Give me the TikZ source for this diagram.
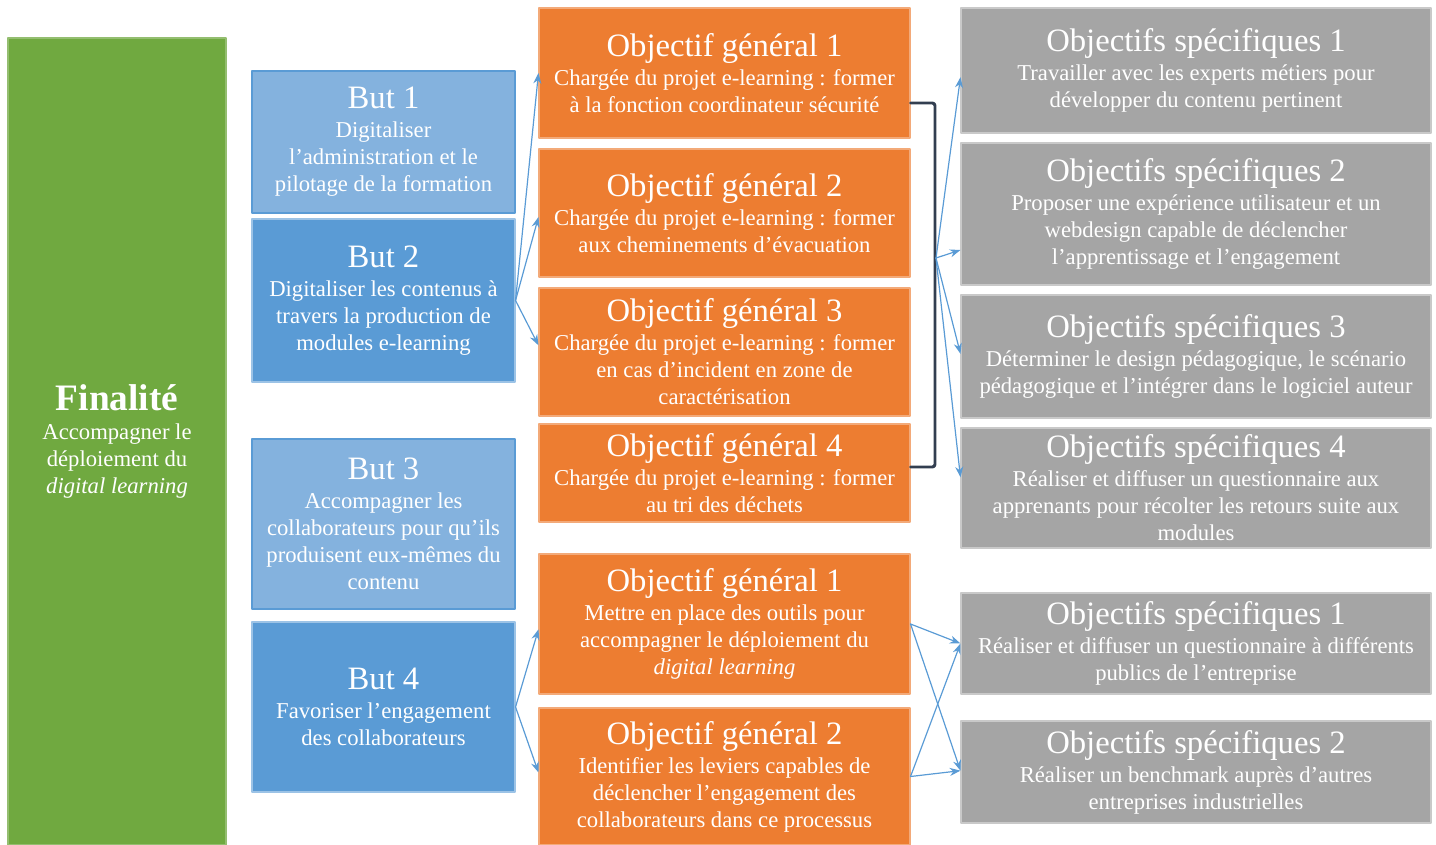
\documentclass[tikz,border=0pt]{standalone}
\usepackage{fontspec}
\setmainfont{Liberation Serif}
\usepackage{xcolor}
\usepackage{tikz}
\usetikzlibrary{arrows.meta,calc}

\definecolor{vertFin}{HTML}{70A940}
\definecolor{bleuBut}{HTML}{5A9BD5}
\definecolor{bleuClair}{HTML}{84B2DE}
\definecolor{orangeGen}{HTML}{ED7D31}
\definecolor{grisSpe}{HTML}{A5A5A5}
\definecolor{navyCrochet}{HTML}{323E50}

\newcommand{\titre}[1]{{\fontsize{24.5}{28}\selectfont #1}}

\begin{document}
\begin{tikzpicture}[
					x=0.75pt,y=-0.75pt,
					>=Stealth,
					line cap=round,line join=round,
					font=\fontsize{17}{20.25}\selectfont,
					boite/.style={rectangle, text=white, align=center, inner sep=0pt, line width=0.8pt},
					fina/.style={boite, fill=vertFin, draw=vertFin!75!white},
					butclair/.style={boite, fill=bleuClair, draw=bleuBut},
					butfonce/.style={boite, fill=bleuBut, draw=bleuBut!60!white},
					objgen/.style={boite, fill=orangeGen, draw=orangeGen!65!white},
					objspe/.style={boite, fill=grisSpe, draw=grisSpe!60!white},
					fleche/.style={-{Stealth[length=8pt,width=6pt]}, draw=bleuBut, line width=0.9pt},
					crochet/.style={draw=navyCrochet, line width=2.2pt, rounded corners=2pt}
					]
					%----- parameters
					\def\px{0.75pt}
					\def\cFin{117}
					\def\cBut{383.5}
					\def\cGen{724.5}
					\def\cSpe{1196}
					\def\wBut{263}
					\def\wGen{371}
					\def\wSpe{470}
					
					\useasboundingbox (0,0) rectangle (1436,845);
					
					%----- finalite
					\node[fina, minimum width=218*\px, minimum height=807*\px] (fin) at (\cFin,441.5)
					{{\fontsize{28}{30}\selectfont\bfseries Finalité}\\[1.5pt] Accompagner le\\ déploiement du\\ \textit{digital learning}};
					
					%----- buts
					\node[butclair, minimum width=\wBut*\px, minimum height=142*\px] (but1) at (\cBut,142)
					{\titre{But 1}\\[1.5pt] Digitaliser\\ l’administration et le\\ pilotage de la formation};
					\node[butfonce, minimum width=\wBut*\px, minimum height=163*\px] (but2) at (\cBut,300.5)
					{\titre{But 2}\\[1.5pt] Digitaliser les contenus à\\ travers la production de\\ modules e-learning};
					\node[butclair, minimum width=\wBut*\px, minimum height=170*\px] (but3) at (\cBut,524)
					{\titre{But 3}\\[1.5pt] Accompagner les\\ collaborateurs pour qu’ils\\ produisent eux-mêmes du\\ contenu};
					\node[butfonce, minimum width=\wBut*\px, minimum height=170*\px] (but4) at (\cBut,707)
					{\titre{But 4}\\[1.5pt] Favoriser l’engagement\\ des collaborateurs};
					
					%----- objectifs generaux
					\node[objgen, minimum width=\wGen*\px, minimum height=130*\px] (og1) at (\cGen,73)
					{\titre{Objectif général 1}\\[1.5pt] Chargée du projet e-learning : former\\ à la fonction coordinateur sécurité};
					\node[objgen, minimum width=\wGen*\px, minimum height=128*\px] (og2) at (\cGen,213)
					{\titre{Objectif général 2}\\[1.5pt] Chargée du projet e-learning : former\\ aux cheminements d’évacuation};
					\node[objgen, minimum width=\wGen*\px, minimum height=128*\px] (og3) at (\cGen,352)
					{\titre{Objectif général 3}\\[1.5pt] Chargée du projet e-learning : former\\ en cas d’incident en zone de\\ caractérisation};
					\node[objgen, minimum width=\wGen*\px, minimum height=98*\px] (og4) at (\cGen,473)
					{\titre{Objectif général 4}\\[1.5pt] Chargée du projet e-learning : former\\ au tri des déchets};
					\node[objgen, minimum width=\wGen*\px, minimum height=140*\px] (og5) at (\cGen,624)
					{\titre{Objectif général 1}\\[1.5pt] Mettre en place des outils pour\\ accompagner le déploiement du\\ \textit{digital learning}};
					\node[objgen, minimum width=\wGen*\px, minimum height=137*\px] (og6) at (\cGen,776.5)
					{\titre{Objectif général 2}\\[1.5pt] Identifier les leviers capables de\\ déclencher l’engagement des\\ collaborateurs dans ce processus};
					
					%----- objectifs specifiques
					\node[objspe, minimum width=\wSpe*\px, minimum height=125*\px] (os1) at (\cSpe,70.5)
					{\titre{Objectifs spécifiques 1}\\[1.5pt] Travailler avec les experts métiers pour\\ développer du contenu pertinent};
					\node[objspe, minimum width=\wSpe*\px, minimum height=142*\px] (os2) at (\cSpe,214)
					{\titre{Objectifs spécifiques 2}\\[1.5pt] Proposer une expérience utilisateur et un\\ webdesign capable de déclencher\\ l’apprentissage et l’engagement};
					\node[objspe, minimum width=\wSpe*\px, minimum height=123*\px] (os3) at (\cSpe,356.5)
					{\titre{Objectifs spécifiques 3}\\[1.5pt] Déterminer le design pédagogique, le scénario\\ pédagogique et l’intégrer dans le logiciel auteur};
					\node[objspe, minimum width=\wSpe*\px, minimum height=120*\px] (os4) at (\cSpe,488)
					{\titre{Objectifs spécifiques 4}\\[1.5pt] Réaliser et diffuser un questionnaire aux\\ apprenants pour récolter les retours suite aux\\ modules};
					\node[objspe, minimum width=\wSpe*\px, minimum height=101*\px] (os5) at (\cSpe,643.5)
					{\titre{Objectifs spécifiques 1}\\[1.5pt] Réaliser et diffuser un questionnaire à différents\\ publics de l’entreprise};
					\node[objspe, minimum width=\wSpe*\px, minimum height=102*\px] (os6) at (\cSpe,772)
					{\titre{Objectifs spécifiques 2}\\[1.5pt] Réaliser un benchmark auprès d’autres\\ entreprises industrielles};
					
					%----- arrows but 2
					\draw[fleche] (but2.east) -- (og1.west);
					\draw[fleche] (but2.east) -- ([yshift=-3pt]og2.west);
					\draw[fleche] (but2.east) -- ([yshift=5pt]og3.west);
					
					%----- bracket og1..og4
					\draw[crochet] (og1.east |- 0,103) -- (935,103) -- (935,467) -- (og4.east |- 0,467);
					\coordinate (crochet) at (936,258);
					
					\draw[fleche] (crochet) -- ([yshift=-5pt]os1.west);
					\draw[fleche] (crochet) -- ([yshift=-27pt]os2.west);
					\draw[fleche] (crochet) -- ([yshift=2pt]os3.west);
					\draw[fleche] (crochet) -- ([yshift=8pt]os4.west);
					
					%----- arrows but 4
					\draw[fleche] (but4.east) -- ([yshift=-4pt]og5.west);
					\draw[fleche] (but4.east) -- ([yshift=3pt]og6.west);
					\draw[fleche] (og5.east) -- (os5.west);
					\draw[fleche] (og5.east) -- ([yshift=1pt]os6.west);
					\draw[fleche] (og6.east) -- (os5.west);
					\draw[fleche] (og6.east) -- ([yshift=1pt]os6.west);
					
				\end{tikzpicture}
\end{document}
